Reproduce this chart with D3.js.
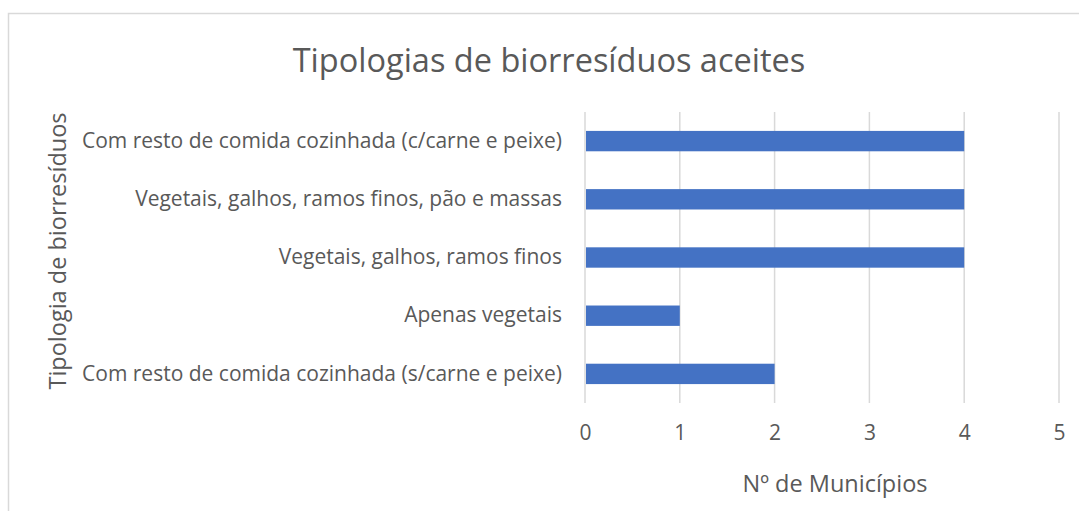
<!DOCTYPE html>
<html>
<head>
<meta charset="utf-8">
<script src="https://cdn.jsdelivr.net/npm/d3@7"></script>
<style>
body{margin:0;background:#fff;}
text{font-family:"Open Sans",sans-serif;fill:#595959;}
</style>
</head>
<body>
<div id="plot"></div>
<script>
// dados
var categorias = [
	'Com resto de comida cozinhada (c/carne e peixe)',
	'Vegetais, galhos, ramos finos, pão e massas',
	'Vegetais, galhos, ramos finos',
	'Apenas vegetais',
	'Com resto de comida cozinhada (s/carne e peixe)'
];
var municipios = [4, 4, 4, 1, 2];
var ticks = [0, 1, 2, 3, 4, 5];

var W = 1079, H = 511;
var margin = {t:112, r:20, b:108, l:585};
var width = 1059 - margin.l,
	height = 403 - margin.t;

var svg = d3.select('#plot')
	.append('svg')
	.attr('width', W)
	.attr('height', H);

// moldura
svg.append('rect')
	.attr('x', 8.5).attr('y', 13.5)
	.attr('width', W + 10).attr('height', H + 10)
	.attr('fill', 'none')
	.attr('stroke', '#d9d9d9')
	.attr('stroke-width', 1.5);

var plot = svg.append('g')
	.attr('transform', 'translate(' + margin.l + ',' + margin.t + ')');

var scaleX = d3.scaleLinear().domain([0, 5]).range([0, width]);
var scaleY = d3.scaleBand().domain(categorias).range([0, height]).paddingInner(0.65).paddingOuter(0.325);

// grelha
plot.selectAll('.grid')
	.data(ticks)
	.enter()
	.append('line')
	.attr('class', 'grid')
	.attr('x1', function(d){ return scaleX(d) })
	.attr('x2', function(d){ return scaleX(d) })
	.attr('y1', 0)
	.attr('y2', height)
	.attr('stroke', '#d9d9d9')
	.attr('stroke-width', 1.5);

plot.selectAll('.bar')
	.data(categorias)
	.enter()
	.append('rect')
	.attr('class', 'bar')
	.attr('x', scaleX(0) + 1)
	.attr('y', function(d){ return scaleY(d) })
	.attr('width', function(d, i){ return scaleX(municipios[i]) - scaleX(0) - 1 })
	.attr('height', scaleY.bandwidth())
	.attr('fill', '#4472c4');

// eixo x
var xAxis = plot.append('g')
	.attr('transform', 'translate(0,' + height + ')')
	.call(d3.axisBottom(scaleX).tickValues(ticks).tickFormat(d3.format('d')).tickSize(0).tickPadding(22));
xAxis.select('.domain').remove();
xAxis.selectAll('text').style('font-size', '21px').attr('fill', '#595959');

// eixo y
var yAxis = plot.append('g')
	.call(d3.axisLeft(scaleY).tickSize(0).tickPadding(23));
yAxis.select('.domain').remove();
yAxis.selectAll('text').style('font-size', '21px').attr('fill', '#595959');

// títulos
svg.append('text')
	.attr('x', 549).attr('y', 72)
	.attr('text-anchor', 'middle')
	.style('font-size', '32.5px')
	.text('Tipologias de biorresíduos aceites');

svg.append('text')
	.attr('x', 835).attr('y', 492)
	.attr('text-anchor', 'middle')
	.style('font-size', '23.5px')
	.text('Nº de Municípios');

svg.append('text')
	.attr('transform', 'translate(66,251) rotate(-90)')
	.attr('text-anchor', 'middle')
	.style('font-size', '23.5px')
	.text('Tipologia de biorresíduos');
</script>
</body>
</html>
